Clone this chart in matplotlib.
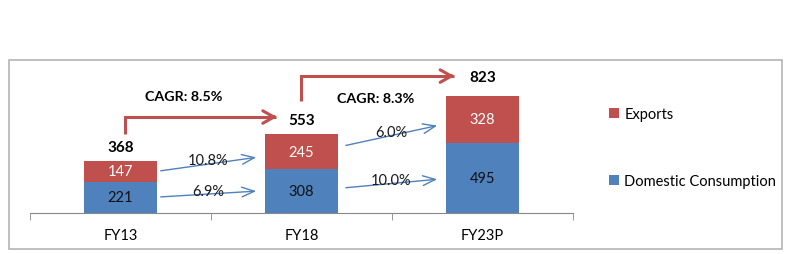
import matplotlib
matplotlib.use("Agg")
import matplotlib.pyplot as plt
from matplotlib.patches import Rectangle
import numpy as np

plt.rcParams['font.family'] = ['Lato', 'DejaVu Sans']

years = ["FY13", "FY18", "FY23P"]
domestic = [221, 308, 495]
exports = [147, 245, 328]
totals = [368, 553, 823]
cagr = ["CAGR: 8.5%", "CAGR: 8.3%"]
dom_growth = ["6.9%", "10.0%"]
exp_growth = ["10.8%", "6.0%"]

blue = "#4f81bd"
red = "#c0504d"

fig = plt.figure(figsize=(8.02, 2.55), dpi=100)
fig.patches.append(Rectangle((9 / 802, 5 / 255), 773 / 802, 189 / 255,
                             transform=fig.transFigure, fill=False,
                             edgecolor="#b4b4b4", lw=1.2))
ax = fig.add_axes([30 / 802, 41 / 255, 543 / 802, 150 / 255])

x = np.arange(len(years))
w = 0.4
b1 = ax.bar(x, domestic, w, color=blue, label="Domestic Consumption")
b2 = ax.bar(x, exports, w, bottom=domestic, color=red, label="Exports")

ax.set_xlim(-0.5, 2.5)
ax.set_ylim(0, 1055)
for s in ["top", "right", "left"]:
    ax.spines[s].set_visible(False)
ax.spines["bottom"].set_color("#888888")
ax.set_yticks([])
ax.set_xticks(x)
ax.set_xticklabels(years, fontsize=10.5)
ax.tick_params(axis="x", which="major", length=0, pad=10.5)
ax.set_xticks([-0.5, 0.5, 1.5, 2.5], minor=True)
ax.tick_params(axis="x", which="minor", length=5, color="#888888")

for i in range(len(years)):
    ax.text(x[i], domestic[i] / 2, str(domestic[i]), ha="center", va="center",
            fontsize=10.5, color="#111111")
    ax.text(x[i], domestic[i] + exports[i] / 2, str(exports[i]), ha="center",
            va="center", fontsize=10.5, color="white")
    off = 19 if i == 2 else 14
    ax.annotate(str(totals[i]), (x[i], totals[i]), xytext=(0, off * 0.72),
                textcoords="offset points", ha="center", va="center",
                fontsize=11, fontweight="bold")

# growth arrows between bars
dom_y = [(112, 155), (176, 239)]
exp_y = [(294, 394), (471, 619)]
lab_dy = [[22, 22], [22, 14]]
for i in range(2):
    x0 = x[i] + (0.207 if i == 0 else 0.23)
    x1 = x[i + 1] - 0.235
    for j, ((ya, yb), lab) in enumerate([(dom_y[i], dom_growth[i]), (exp_y[i], exp_growth[i])]):
        ax.annotate("", xy=(x1, yb), xytext=(x0, ya),
                    arrowprops=dict(arrowstyle="->,head_length=0.9,head_width=0.35",
                                    color=blue, lw=1.0))
        xm = (x0 + x1) / 2
        ym = ya + (yb - ya) * 0.55 + lab_dy[i][j]
        ax.text(xm, ym, lab, ha="center", va="center", fontsize=10.5,
                color="#1a1a1a")

# CAGR arrows
cagr_pts = [((0.025, 556), (0.025, 675), (0.88, 675)),
            ((0.997, 788), (0.997, 963), (1.86, 963))]
cagr_txt = [(0.35, 823), (1.41, 809)]
for i in range(2):
    p0, p1, p2 = cagr_pts[i]
    ax.plot([p0[0], p1[0], p2[0] - 0.02], [p0[1], p1[1], p2[1]], color=red,
            lw=2.2, solid_capstyle="butt", solid_joinstyle="miter")
    ax.annotate("", xy=p2, xytext=(p2[0] - 0.05, p2[1]),
                arrowprops=dict(arrowstyle="->,head_length=0.8,head_width=0.45",
                                color=red, lw=2.2))
    ax.text(cagr_txt[i][0], cagr_txt[i][1], cagr[i], ha="center", va="center",
            fontsize=10.3, fontweight="bold")

fig.legend([b2, b1], ["Exports", "Domestic Consumption"], loc="upper left",
           bbox_to_anchor=(596 / 802, 1 - 95 / 255), frameon=False,
           handlelength=0.65, handleheight=0.65, handletextpad=0.4,
           labelspacing=3.65, fontsize=10.5)

fig.savefig("out.png", dpi=100)
